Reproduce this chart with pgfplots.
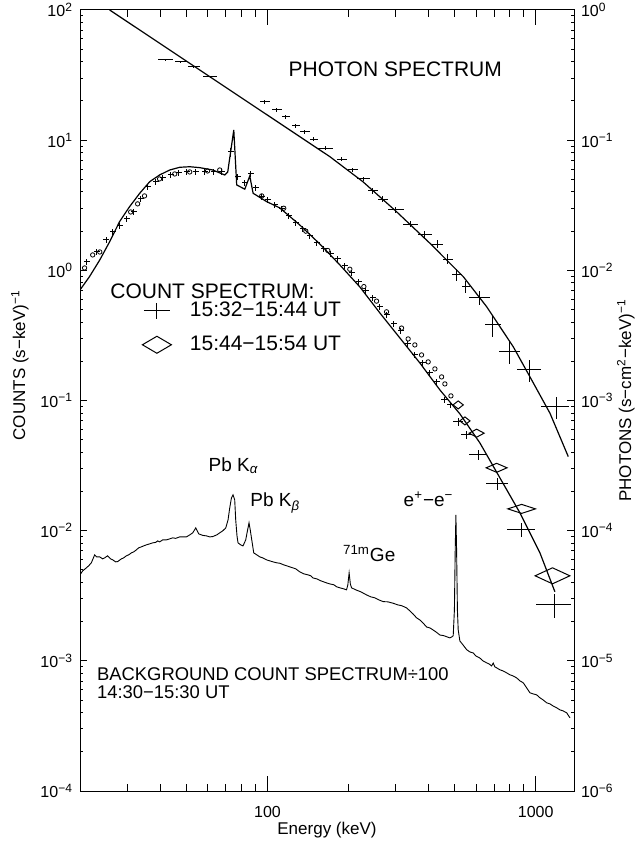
\documentclass[border=0pt]{standalone}
\usepackage{fontspec}
\setmainfont{Liberation Sans}
\usepackage{pgfplots}
\usepackage{pgfplotstable}
\pgfplotsset{compat=1.18}
\usetikzlibrary{calc}

\pgfplotstableread{
x y ex ey
41.6 41.3 0.064 0.012
47.5 39.9 0.052 0.012
53.1 36.5 0.052 0.012
61.2 30.6 0.064 0.018
97.7 19.8 0.043 0.035
108.3 17.06 0.043 0.035
117.0 15.15 0.034 0.035
127.5 12.85 0.034 0.035
137.8 11.62 0.043 0.035
148.9 10.2 0.034 0.035
164.3 8.66 0.064 0.035
189.4 7.13 0.043 0.035
208.1 5.90 0.043 0.035
227.8 5.04 0.056 0.035
247.1 4.07 0.043 0.053
269.3 3.53 0.043 0.053
301.1 2.91 0.069 0.053
341.1 2.26 0.064 0.053
386.3 1.87 0.060 0.071
430.1 1.587 0.047 0.071
470.8 1.217 0.043 0.088
508.6 0.922 0.043 0.106
549.5 0.750 0.034 0.106
619.6 0.614 0.086 0.124
693 0.381 0.069 0.19
802 0.2375 0.086 0.19
952 0.172 0.103 0.19
1191 0.0897 0.12 0.19
}\photondata

\pgfplotstableread{
x y ex ey
21.2 1.160 0.026 0.053
23.1 1.384 0.026 0.053
25.1 1.712 0.026 0.053
26.5 1.972 0.026 0.053
28.1 2.193 0.026 0.053
29.9 2.482 0.026 0.053
31.7 2.808 0.026 0.053
33.7 3.535 0.026 0.053
35.8 4.37 0.026 0.053
38.3 4.78 0.026 0.053
40.7 5.13 0.026 0.053
43.6 5.40 0.026 0.053
46.7 5.60 0.026 0.053
50.0 5.70 0.026 0.053
54.0 5.70 0.026 0.053
58.3 5.70 0.026 0.053
63.1 5.70 0.026 0.053
67.5 5.70 0.026 0.053
73.0 8.12 0.026 0.08
77.5 5.22 0.026 0.053
82.3 4.69 0.026 0.053
86.6 5.50 0.026 0.053
90.4 4.30 0.026 0.053
95.2 3.66 0.026 0.053
100.3 3.47 0.026 0.053
106.5 3.18 0.026 0.053
113.1 2.96 0.026 0.053
120.1 2.62 0.026 0.053
127.5 2.312 0.026 0.053
135.4 2.080 0.026 0.053
143.8 1.837 0.026 0.053
152.8 1.623 0.026 0.053
162.2 1.460 0.026 0.053
172.3 1.336 0.026 0.053
182.9 1.224 0.026 0.053
194.3 1.081 0.026 0.053
206.3 0.955 0.026 0.053
219.1 0.815 0.026 0.053
232.7 0.695 0.026 0.053
247.1 0.614 0.026 0.053
262.4 0.5235 0.026 0.053
278.7 0.4545 0.026 0.053
296 0.3877 0.026 0.053
314.4 0.3424 0.026 0.053
333.8 0.2721 0.026 0.053
354.5 0.2239 0.026 0.053
379.8 0.1944 0.026 0.053
403.3 0.1629 0.026 0.053
428.3 0.1389 0.026 0.06
458.7 0.1011 0.03 0.06
483.1 0.0925 0.03 0.06
514.2 0.0688 0.043 0.071
552.7 0.0544 0.047 0.071
610.7 0.0382 0.073 0.088
723.2 0.0229 0.094 0.106
886.6 0.01014 0.12 0.124
1180 0.00269 0.15 0.21
}\countA

\pgfplotstableread{
x y
20.8 1.043
22.3 1.313
23.7 1.384
30.9 2.808
32.8 3.24
34.8 3.73
39.6 5.04
45.1 5.50
51.3 5.70
59.8 5.80
66.4 5.90
95.2 3.73
115 3.0
139 2.0
167.9 1.42
202.8 1.02
228.8 0.75
255.1 0.58
278 0.48
316.2 0.36
334.6 0.2972
354.5 0.2673
375.5 0.2239
397.4 0.198
421 0.1749
446 0.1518
458.7 0.1341
483.1 0.1085
}\countB

\begin{document}
\begin{tikzpicture}
\begin{axis}[name=main, scale only axis, width=247pt, height=390.5pt,
  xmode=log, ymode=log,
  xmin=20, xmax=1390, ymin=1e-4, ymax=100,
  tick align=inside,
  axis line style={line width=0.5pt},
  every tick/.append style={line width=0.5pt, black},
  ticklabel style={font=\fontsize{8}{9}\selectfont},
  ymajorticks=false, yminorticks=false,
  xtick pos=both, xticklabel pos=left,
  major tick length=7.5pt, minor tick length=3.5pt,
  xtick={100,1000}, xticklabels={100,1000},
  minor xtick={30,40,50,60,70,80,90,200,300,400,500,600,700,800,900},
  xticklabel style={yshift=-4pt},
  xlabel={Energy (keV)},
  xlabel style={font=\fontsize{8.5}{10}\selectfont, at={(rel axis cs:0.5,0)}, anchor=base, yshift=-21.5pt},
  legend style={at={(0.1245,0.6265)}, anchor=north west, draw=none, fill=none,
    font=\fontsize{10.5}{12}\selectfont, row sep=8pt, column sep=9pt, inner sep=0pt,
    nodes={inner sep=0pt}},
  legend cell align=left,
]
\addplot[black, line width=0.45pt, forget plot] coordinates {
(20.0,0.00458)(20.46,0.00491)(21.12,0.00518)(21.54,0.00537)(22.04,0.00566)
(22.68,0.00652)(23.08,0.00629)(23.68,0.00629)(24.29,0.00607)(24.71,0.00618)
(25.36,0.00641)(26.02,0.00607)(26.48,0.00597)(27.16,0.00576)(27.63,0.00579)
(28.52,0.00607)(29.09,0.00618)(29.77,0.00641)(30.37,0.00652)(31.08,0.00675)
(31.70,0.00687)(32.44,0.00712)(33.09,0.00738)(33.86,0.00751)(34.54,0.00764)
(35.35,0.00778)(36.38,0.00792)(37.33,0.00806)(38.30,0.00813)(38.97,0.00835)
(39.64,0.00820)(40.68,0.00850)(42.0,0.00850)(43.2,0.00865)(44.33,0.00881)
(45.48,0.00873)(47.08,0.00896)(48.31,0.00896)(49.87,0.00896)(51.3,0.00928)
(52.65,0.00962)(54.02,0.01050)(55.43,0.00945)(57.37,0.00920)(59.23,0.00912)
(60.93,0.00896)(62.52,0.00901)(64.7,0.00928)(66.37,0.00962)(68.1,0.00996)
(69.9,0.01050)(71.29,0.01210)(72.33,0.01497)(73.41,0.01786)(74.4,0.01884)
(75.49,0.01724)(76.15,0.01210)(76.99,0.00912)(77.67,0.00806)(79.48,0.00778)
(81.07,0.00764)(82.98,0.00850)(84.05,0.00979)(85.36,0.01148)(86.25,0.01014)
(87.15,0.00881)(88.89,0.00675)(91.21,0.00652)(93.6,0.00629)(96.05,0.00618)
(99.15,0.00597)(102.0,0.00586)(104.9,0.00576)(108.3,0.00566)(111.2,0.00562)
(115.0,0.00546)(118.0,0.00537)(121.1,0.00527)(124.3,0.00518)(127.5,0.00509)
(131.9,0.00483)(136.6,0.00466)(141.4,0.00458)(145.1,0.00450)(147.6,0.00434)
(152.8,0.00426)(158.1,0.00412)(166.1,0.00397)(170.8,0.00390)(176.8,0.00384)
(181.4,0.00370)(186.2,0.00364)(192.7,0.00357)(197.2,0.00351)(199.4,0.00384)
(201.6,0.00474)(203.7,0.00390)(205.8,0.00364)(213.5,0.00351)(222.9,0.00339)
(234.1,0.00321)(243,0.00310)(251.4,0.00305)(260.2,0.00294)(270.0,0.00285)
(281.1,0.00284)(294.2,0.00277)(306.3,0.00269)(317.0,0.00265)(330.2,0.00255)
(339.6,0.00242)(348.5,0.00230)(359.8,0.00214)(370.1,0.00206)(379.8,0.00196)
(392.1,0.00182)(403.4,0.00179)(413.9,0.00173)(424.6,0.00167)(439.4,0.00158)
(454.9,0.00156)(466.7,0.00153)(478.9,0.00150)(487.2,0.00153)(492.7,0.00156)
(497.8,0.00246)(501.2,0.0070)(504.2,0.0132)(507.3,0.0070)(510.8,0.00246)
(514.3,0.00173)(521.8,0.00142)(535.4,0.00133)(552.7,0.00122)(568.6,0.00117)
(584.9,0.00115)(598.7,0.00109)(619.6,0.00105)(636,0.00100)(656.5,0.000965)
(669.6,0.000948)(685.3,0.000915)(694.7,0.00096)(704.7,0.000899)(715.2,0.000884)
(735.7,0.000853)(755,0.000838)(779.4,0.000809)(801.8,0.000781)(822.7,0.000767)
(849.2,0.000740)(873.8,0.000702)(898.9,0.000678)(919.9,0.000632)(935.9,0.000599)
(952.1,0.000568)(977,0.000558)(1008.6,0.000548)(1037.5,0.000520)(1064.6,0.000502)
(1099,0.000476)(1130.6,0.000467)(1160,0.000451)(1197.5,0.000436)(1232,0.000420)
(1264,0.000413)(1305,0.000399)(1320,0.000385)(1343,0.000365)
};
\addplot[black, line width=0.6pt, forget plot] coordinates {
(20,0.707)(21.7,0.895)(23.7,1.202)(25.8,1.66)(28.1,2.37)(30.6,3.08)(33.4,3.91)
(36.4,4.80)(39.6,5.40)(43.2,5.90)(47.1,6.19)(51.3,6.25)(55.9,6.15)(62.5,5.90)
(69.3,5.40)(71.1,5.70)(74.9,11.97)(76.8,4.53)(82.3,4.20)(85.9,5.31)(88.4,3.91)
(99.1,3.38)(111.2,3.015)(132,2.23)(156.7,1.595)(186.2,1.100)(221,0.746)
(262.4,0.471)(311.6,0.3026)(370,0.1944)(439.4,0.1206)(521.8,0.0789)
(619.6,0.0472)(735.9,0.02543)(873.8,0.0137)(1037.5,0.00675)(1180,0.00339)
};
\addplot[black, line width=0.6pt, forget plot] coordinates {
(25.8,100)(170.8,7.47)(226.8,4.80)(302.9,2.82)(403.3,1.615)(537,0.895)
(656.4,0.526)(824.8,0.259)(966,0.144)(1131,0.0798)(1323,0.0371)
};
\addplot[draw=none, mark=none, forget plot,
  error bars/.cd, x dir=both, x explicit relative, y dir=both, y explicit relative,
  error mark=none, error bar style={draw=black, line width=0.5pt}]
  table[x=x, y=y, x error=ex, y error=ey] {\photondata};
\addplot[draw=none, mark=none, forget plot,
  error bars/.cd, x dir=both, x explicit relative, y dir=both, y explicit relative,
  error mark=none, error bar style={draw=black, line width=0.5pt}]
  table[x=x, y=y, x error=ex, y error=ey] {\countA};
\addplot[black, only marks, mark=o, mark size=1.1pt, mark options={line width=0.4pt}, forget plot]
  table[x=x, y=y] {\countB};
\addplot[black, only marks, mark=diamond, mark size=2pt, mark options={xscale=1.7, line width=0.5pt}, forget plot]
  coordinates {(514.2,0.0925)(544.8,0.0697)};
\addplot[black, only marks, mark=diamond, mark size=2pt, mark options={xscale=2.5, line width=0.5pt}, forget plot]
  coordinates {(602.5,0.0561)};
\addplot[black, only marks, mark=diamond, mark size=2.25pt, mark options={xscale=3.1, line width=0.5pt}, forget plot]
  coordinates {(715.2,0.0304)};
\addplot[black, only marks, mark=diamond, mark size=2.25pt, mark options={xscale=4.1, line width=0.5pt}, forget plot]
  coordinates {(886.6,0.0147)};
\addplot[black, only marks, mark=diamond, mark size=4pt, mark options={xscale=2.9, line width=0.5pt}, forget plot]
  coordinates {(1155.6,0.0045)};

\addlegendimage{legend image code/.code={\draw[line width=0.5pt] (-6.5pt,0pt)--(6.5pt,0pt) (0pt,-4pt)--(0pt,4pt);}}
\addlegendentry{15:32−15:44 UT}
\addlegendimage{legend image code/.code={\draw[line width=0.5pt] (-7.25pt,0pt)--(0pt,4.25pt)--(7.25pt,0pt)--(0pt,-4.25pt)--cycle;}}
\addlegendentry{15:44−15:54 UT}

\node[anchor=base west, inner sep=0pt, font=\fontsize{10.5}{12}\selectfont] at (rel axis cs:0.4217,0.9146) {PHOTON SPECTRUM};
\node[anchor=base west, inner sep=0pt, font=\fontsize{10.5}{12}\selectfont] at (rel axis cs:0.0607,0.6309) {COUNT SPECTRUM:};
\node[anchor=base west, inner sep=0pt, font=\fontsize{9.5}{11}\selectfont] at (rel axis cs:0.2597,0.4088) {Pb K\textsubscript{\textit{α}}};
\node[anchor=base west, inner sep=0pt, font=\fontsize{9.5}{11}\selectfont] at (rel axis cs:0.3441,0.364) {Pb K\textsubscript{\textit{β}}};
\node[anchor=base west, inner sep=0pt, font=\fontsize{9.5}{11}\selectfont] at (rel axis cs:0.5318,0.2936) {\textsuperscript{71m}Ge};
\node[anchor=base west, inner sep=0pt, font=\fontsize{9.5}{11}\selectfont] at (rel axis cs:0.6545,0.364) {e\textsuperscript{+}−e\textsuperscript{−}};
\node[anchor=base west, inner sep=0pt, font=\fontsize{9.2}{11}\selectfont] at (rel axis cs:0.0338,0.1421) {BACKGROUND COUNT SPECTRUM÷100};
\node[anchor=base west, inner sep=0pt, font=\fontsize{9.2}{11}\selectfont] at (rel axis cs:0.0338,0.1187) {14:30−15:30 UT};
\end{axis}

\begin{axis}[scale only axis, width=247pt, height=390.5pt,
  xmode=log, ymode=log,
  xmin=20, xmax=1390, ymin=1e-4, ymax=100,
  hide x axis, axis y line*=left,
  tick align=inside,
  axis line style={line width=0.5pt},
  every tick/.append style={line width=0.5pt, black},
  ticklabel style={font=\fontsize{8}{9}\selectfont},
  major tick length=3.5pt, minor tick length=1.75pt,
  ytick={1e-4,1e-3,1e-2,1e-1,1,10,100},
  yticklabels={10\textsuperscript{−4},10\textsuperscript{−3},10\textsuperscript{−2},10\textsuperscript{−1},10\textsuperscript{0},10\textsuperscript{1},10\textsuperscript{2}},
  ylabel={COUNTS (s−keV)\textsuperscript{−1}},
  ylabel style={font=\fontsize{8.5}{10}\selectfont, at={(axis description cs:-0.1215,0.545)}, anchor=center},
]
\end{axis}

\begin{axis}[scale only axis, width=247pt, height=390.5pt,
  xmode=log, ymode=log,
  xmin=20, xmax=1390, ymin=1e-6, ymax=1,
  hide x axis, axis y line*=right,
  tick align=inside,
  axis line style={line width=0.5pt},
  every tick/.append style={line width=0.5pt, black},
  ticklabel style={font=\fontsize{8}{9}\selectfont},
  major tick length=3.5pt, minor tick length=1.75pt,
  ytick={1e-6,1e-5,1e-4,1e-3,1e-2,1e-1,1},
  yticklabels={10\textsuperscript{−6},10\textsuperscript{−5},10\textsuperscript{−4},10\textsuperscript{−3},10\textsuperscript{−2},10\textsuperscript{−1},10\textsuperscript{0}},
  ylabel={PHOTONS (s−cm\textsuperscript{2}−keV)\textsuperscript{−1}},
  ylabel style={font=\fontsize{8.5}{10}\selectfont, at={(axis description cs:1.105,0.5)}, anchor=center},
]
\end{axis}

\pgfresetboundingbox
\path[use as bounding box] ($(main.south west)+(-40pt,-26.5pt)$) rectangle ($(main.north east)+(31.5pt,5pt)$);
\end{tikzpicture}
\end{document}
